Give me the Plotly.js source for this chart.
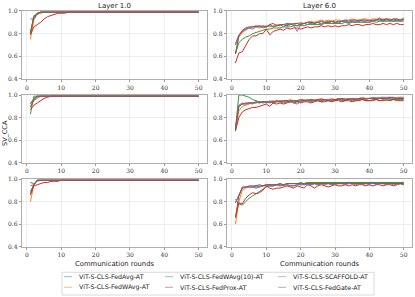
<!DOCTYPE html>
<html>
<head>
<meta charset="utf-8">
<script src="https://cdn.plot.ly/plotly-3.0.1.min.js"></script>
<style>html,body{margin:0;padding:0;background:#fff;}#chart{width:415px;height:297px;}</style>
</head>
<body>
<div id="chart"></div>
<script>
const rounds = [1,2,3,4,5,6,7,8,9,10,11,12,13,14,15,16,17,18,19,20,21,22,23,24,25,26,27,28,29,30,31,32,33,34,35,36,37,38,39,40,41,42,43,44,45,46,47,48,49,50];
const methods = ["ViT-S-CLS-FedAvg-AT","ViT-S-CLS-FedWAvg-AT","ViT-S-CLS-FedWAvg(10)-AT","ViT-S-CLS-FedProx-AT","ViT-S-CLS-SCAFFOLD-AT","ViT-S-CLS-FedGate-AT"];
const colTitles = ["Layer 1.0","Layer 6.0"];
const yTicks = [0.4,0.6,0.8,1.0];
const xTicks = [0,10,20,30,40,50];

// Layer 1.0 — row 1
const l1_avg   = [0.80,0.95,0.98,0.99,0.99,0.99,0.99,0.99,0.99,0.99,0.99,0.99,0.99,0.99,0.99,0.99,0.99,0.99,0.99,0.99,0.99,0.99,0.99,0.99,0.99,0.99,0.99,0.99,0.99,0.99,0.99,0.99,0.99,0.99,0.99,0.99,0.99,0.99,0.99,0.99,0.99,0.99,0.99,0.99,0.99,0.99,0.99,0.99,0.99,0.99];
const l1_wavg  = [0.75,0.92,0.97,0.98,0.99,0.99,0.99,0.99,0.99,0.99,0.99,0.99,0.99,0.99,0.99,0.99,0.99,0.99,0.99,0.99,0.99,0.99,0.99,0.99,0.99,0.99,0.99,0.99,0.99,0.99,0.99,0.99,0.99,0.99,0.99,0.99,0.99,0.99,0.99,0.99,0.99,0.99,0.99,0.99,0.99,0.99,0.99,0.99,0.99,0.99];
const l1_w10   = [0.80,0.96,0.97,0.99,0.99,0.99,0.99,0.99,0.99,0.99,0.99,0.99,0.99,0.99,0.99,0.99,0.99,0.99,0.99,0.99,0.99,0.99,0.99,0.99,0.99,0.99,0.99,0.99,0.99,0.99,0.99,0.99,0.99,0.99,0.99,0.99,0.99,0.99,0.99,0.99,0.99,0.99,0.99,0.99,0.99,0.99,0.99,0.99,0.99,0.99];
const l1_prox  = [0.79,0.86,0.88,0.90,0.93,0.95,0.96,0.97,0.98,0.98,0.98,0.99,0.99,0.99,0.99,0.99,0.99,0.99,0.99,0.99,0.99,0.99,0.99,0.99,0.99,0.99,0.99,0.99,0.99,0.99,0.99,0.99,0.99,0.99,0.99,0.99,0.99,0.99,0.99,0.99,0.99,0.99,0.99,0.99,0.99,0.99,0.99,0.99,0.99,0.99];
const l1_scaf  = [0.93,0.93,0.98,0.99,0.99,0.99,0.99,0.99,0.99,0.99,0.99,0.99,0.99,0.99,0.99,0.99,0.99,0.99,0.99,0.99,0.99,0.99,0.99,0.99,0.99,0.99,0.99,0.99,0.99,0.99,0.99,0.99,0.99,0.99,0.99,0.99,0.99,0.99,0.99,0.99,0.99,0.99,0.99,0.99,0.99,0.99,0.99,0.99,0.99,0.99];
const l1_gate  = [0.81,0.94,0.98,0.99,0.99,0.99,0.99,0.99,0.99,0.99,0.99,0.99,0.99,0.99,0.99,0.99,0.99,0.99,0.99,0.99,0.99,0.99,0.99,0.99,0.99,0.99,0.99,0.99,0.99,0.99,0.99,0.99,0.99,0.99,0.99,0.99,0.99,0.99,0.99,0.99,0.99,0.99,0.99,0.99,0.99,0.99,0.99,0.99,0.99,0.99];

// Layer 6.0 — row 1
const r1_avg   = [0.70,0.78,0.82,0.84,0.85,0.86,0.86,0.87,0.86,0.86,0.87,0.86,0.87,0.87,0.88,0.87,0.88,0.88,0.87,0.89,0.89,0.90,0.89,0.90,0.90,0.89,0.90,0.90,0.91,0.90,0.90,0.91,0.91,0.90,0.91,0.91,0.92,0.91,0.91,0.92,0.91,0.92,0.92,0.91,0.92,0.92,0.91,0.92,0.92,0.92];
const r1_wavg  = [0.62,0.77,0.81,0.83,0.85,0.86,0.86,0.85,0.86,0.87,0.86,0.87,0.88,0.87,0.88,0.88,0.89,0.88,0.89,0.90,0.89,0.90,0.91,0.90,0.91,0.92,0.91,0.92,0.91,0.92,0.92,0.91,0.92,0.92,0.93,0.92,0.92,0.93,0.93,0.92,0.93,0.93,0.92,0.93,0.93,0.93,0.92,0.93,0.92,0.94];
const r1_w10   = [0.62,0.72,0.75,0.77,0.78,0.80,0.81,0.82,0.83,0.84,0.84,0.85,0.85,0.85,0.86,0.86,0.86,0.87,0.87,0.87,0.87,0.88,0.88,0.88,0.88,0.88,0.89,0.89,0.89,0.89,0.89,0.89,0.90,0.89,0.90,0.90,0.90,0.90,0.90,0.90,0.91,0.90,0.91,0.91,0.91,0.91,0.91,0.91,0.91,0.91];
const r1_prox  = [0.54,0.63,0.64,0.70,0.75,0.78,0.78,0.80,0.80,0.84,0.79,0.82,0.83,0.84,0.83,0.85,0.84,0.85,0.85,0.84,0.85,0.86,0.85,0.86,0.86,0.87,0.86,0.87,0.86,0.87,0.86,0.87,0.87,0.88,0.87,0.88,0.88,0.87,0.88,0.88,0.89,0.88,0.88,0.89,0.88,0.89,0.88,0.89,0.88,0.88];
const r1_scaf  = [0.71,0.79,0.82,0.84,0.85,0.84,0.86,0.87,0.85,0.86,0.88,0.86,0.87,0.88,0.86,0.88,0.89,0.87,0.82,0.88,0.89,0.88,0.90,0.89,0.90,0.88,0.90,0.91,0.89,0.90,0.89,0.91,0.90,0.90,0.91,0.90,0.91,0.92,0.90,0.90,0.91,0.92,0.94,0.92,0.93,0.91,0.93,0.92,0.91,0.93];
const r1_gate  = [0.62,0.78,0.83,0.85,0.86,0.86,0.87,0.86,0.87,0.86,0.88,0.89,0.87,0.88,0.88,0.89,0.88,0.89,0.89,0.88,0.89,0.90,0.90,0.89,0.90,0.91,0.90,0.90,0.91,0.90,0.91,0.91,0.92,0.91,0.92,0.92,0.91,0.92,0.92,0.91,0.92,0.92,0.93,0.92,0.93,0.92,0.93,0.93,0.92,0.93];

// Layer 1.0 — row 2
const l2_avg   = [0.92,0.97,0.99,0.99,0.99,0.99,0.99,0.99,0.99,0.99,0.99,0.99,0.99,0.99,0.99,0.99,0.99,0.99,0.99,0.99,0.99,0.99,0.99,0.99,0.99,0.99,0.99,0.99,0.99,0.99,0.99,0.99,0.99,0.99,0.99,0.99,0.99,0.99,0.99,0.99,0.99,0.99,0.99,0.99,0.99,0.99,0.99,0.99,0.99,0.99];
const l2_wavg  = [0.90,0.95,0.97,0.99,0.99,0.99,0.99,0.99,0.99,0.99,0.99,0.99,0.99,0.99,0.99,0.99,0.99,0.99,0.99,0.99,0.99,0.99,0.99,0.99,0.99,0.99,0.99,0.99,0.99,0.99,0.99,0.99,0.99,0.99,0.99,0.99,0.99,0.99,0.99,0.99,0.99,0.99,0.99,0.99,0.99,0.99,0.99,0.99,0.99,0.99];
const l2_w10   = [0.83,0.99,0.99,0.99,0.99,0.99,0.99,0.99,0.99,0.99,0.99,0.99,0.99,0.99,0.99,0.99,0.99,0.99,0.99,0.99,0.99,0.99,0.99,0.99,0.99,0.99,0.99,0.99,0.99,0.99,0.99,0.99,0.99,0.99,0.99,0.99,0.99,0.99,0.99,0.99,0.99,0.99,0.99,0.99,0.99,0.99,0.99,0.99,0.99,0.99];
const l2_prox  = [0.87,0.91,0.93,0.95,0.97,0.98,0.99,0.99,0.99,0.99,0.99,0.99,0.99,0.99,0.99,0.99,0.99,0.99,0.99,0.99,0.99,0.99,0.99,0.99,0.99,0.99,0.99,0.99,0.99,0.99,0.99,0.99,0.99,0.99,0.99,0.99,0.99,0.99,0.99,0.99,0.99,0.99,0.99,0.99,0.99,0.99,0.99,0.99,0.99,0.99];
const l2_scaf  = [0.93,0.96,0.98,0.99,0.99,0.99,0.99,0.99,0.99,0.99,0.99,0.99,0.99,0.99,0.99,0.99,0.99,0.99,0.99,0.99,0.99,0.99,0.99,0.99,0.99,0.99,0.99,0.99,0.99,0.99,0.99,0.99,0.99,0.99,0.99,0.99,0.99,0.99,0.99,0.99,0.99,0.99,0.99,0.99,0.99,0.99,0.99,0.99,0.99,0.99];
const l2_gate  = [0.89,0.96,0.99,0.99,0.99,0.99,0.99,0.99,0.99,0.99,0.99,0.99,0.99,0.99,0.99,0.99,0.99,0.99,0.99,0.99,0.99,0.99,0.99,0.99,0.99,0.99,0.99,0.99,0.99,0.99,0.99,0.99,0.99,0.99,0.99,0.99,0.99,0.99,0.99,0.99,0.99,0.99,0.99,0.99,0.99,0.99,0.99,0.99,0.99,0.99];

// Layer 6.0 — row 2
const r2_avg   = [0.70,0.90,0.92,0.92,0.93,0.93,0.93,0.94,0.93,0.94,0.94,0.93,0.95,0.94,0.95,0.94,0.95,0.95,0.94,0.95,0.95,0.96,0.95,0.95,0.96,0.95,0.96,0.96,0.95,0.96,0.96,0.96,0.96,0.97,0.96,0.96,0.97,0.96,0.97,0.97,0.97,0.96,0.97,0.97,0.97,0.97,0.98,0.97,0.97,0.97];
const r2_wavg  = [0.70,0.86,0.90,0.91,0.92,0.93,0.93,0.94,0.94,0.93,0.94,0.95,0.94,0.95,0.95,0.95,0.96,0.95,0.95,0.96,0.96,0.95,0.96,0.96,0.96,0.97,0.96,0.96,0.97,0.96,0.97,0.97,0.97,0.96,0.97,0.97,0.97,0.98,0.97,0.97,0.97,0.98,0.97,0.98,0.97,0.98,0.97,0.98,0.98,0.97];
const r2_w10   = [0.70,1.00,1.00,0.99,0.98,0.96,0.95,0.94,0.94,0.94,0.94,0.93,0.94,0.94,0.93,0.94,0.95,0.94,0.95,0.94,0.95,0.95,0.94,0.95,0.95,0.94,0.95,0.95,0.95,0.95,0.96,0.95,0.95,0.96,0.95,0.95,0.96,0.96,0.95,0.95,0.96,0.96,0.95,0.96,0.95,0.96,0.96,0.96,0.96,0.96];
const r2_prox  = [0.68,0.80,0.85,0.87,0.88,0.89,0.89,0.90,0.91,0.92,0.90,0.93,0.92,0.93,0.92,0.93,0.94,0.93,0.94,0.93,0.94,0.94,0.93,0.94,0.95,0.94,0.94,0.95,0.94,0.95,0.95,0.94,0.95,0.95,0.94,0.95,0.95,0.96,0.95,0.95,0.95,0.96,0.95,0.95,0.96,0.95,0.96,0.95,0.95,0.95];
const r2_scaf  = [0.70,0.91,0.93,0.92,0.93,0.92,0.94,0.93,0.94,0.93,0.95,0.94,0.94,0.95,0.94,0.95,0.94,0.93,0.92,0.94,0.95,0.95,0.96,0.95,0.96,0.95,0.96,0.96,0.95,0.96,0.97,0.96,0.96,0.97,0.96,0.97,0.96,0.97,0.97,0.97,0.98,0.97,0.98,0.98,0.98,0.98,0.98,0.97,0.98,0.98];
const r2_gate  = [0.68,0.90,0.92,0.93,0.93,0.93,0.94,0.93,0.94,0.94,0.93,0.94,0.95,0.94,0.95,0.95,0.94,0.95,0.95,0.96,0.95,0.95,0.96,0.95,0.96,0.96,0.96,0.95,0.96,0.96,0.96,0.97,0.96,0.96,0.97,0.96,0.97,0.97,0.96,0.97,0.97,0.97,0.97,0.97,0.97,0.98,0.97,0.97,0.97,0.97];

// Layer 1.0 — row 3
const l3_avg   = [0.89,0.95,0.99,0.99,0.99,0.99,0.99,0.99,0.99,0.99,0.99,0.99,0.99,0.99,0.99,0.99,0.99,0.99,0.99,0.99,0.99,0.99,0.99,0.99,0.99,0.99,0.99,0.99,0.99,0.99,0.99,0.99,0.99,0.99,0.99,0.99,0.99,0.99,0.99,0.99,0.99,0.99,0.99,0.99,0.99,0.99,0.99,0.99,0.99,0.99];
const l3_wavg  = [0.80,0.95,0.99,0.99,0.99,0.99,0.99,0.99,0.99,0.99,0.99,0.99,0.99,0.99,0.99,0.99,0.99,0.99,0.99,0.99,0.99,0.99,0.99,0.99,0.99,0.99,0.99,0.99,0.99,0.99,0.99,0.99,0.99,0.99,0.99,0.99,0.99,0.99,0.99,0.99,0.99,0.99,0.99,0.99,0.99,0.99,0.99,0.99,0.99,0.99];
const l3_w10   = [0.97,0.96,0.98,0.99,0.99,0.99,0.99,0.99,0.99,0.99,0.99,0.99,0.99,0.99,0.99,0.99,0.99,0.99,0.99,0.99,0.99,0.99,0.99,0.99,0.99,0.99,0.99,0.99,0.99,0.99,0.99,0.99,0.99,0.99,0.99,0.99,0.99,0.99,0.99,0.99,0.99,0.99,0.99,0.99,0.99,0.99,0.99,0.99,0.99,0.99];
const l3_prox  = [0.86,0.94,0.95,0.96,0.97,0.97,0.98,0.98,0.98,0.99,0.99,0.99,0.99,0.99,0.99,0.99,0.99,0.99,0.99,0.99,0.99,0.99,0.99,0.99,0.99,0.99,0.99,0.99,0.99,0.99,0.99,0.99,0.99,0.99,0.99,0.99,0.99,0.99,0.99,0.99,0.99,0.99,0.99,0.99,0.99,0.99,0.99,0.99,0.99,0.99];
const l3_scaf  = [0.94,0.95,0.99,0.99,0.99,0.99,0.99,0.99,0.99,0.99,0.99,0.99,0.99,0.99,0.99,0.99,0.99,0.99,0.99,0.99,0.99,0.99,0.99,0.99,0.99,0.99,0.99,0.99,0.99,0.99,0.99,0.99,0.99,0.99,0.99,0.99,0.99,0.99,0.99,0.99,0.99,0.99,0.99,0.99,0.99,0.99,0.99,0.99,0.99,0.99];
const l3_gate  = [0.87,0.95,0.99,0.99,0.99,0.99,0.99,0.99,0.99,0.99,0.99,0.99,0.99,0.99,0.99,0.99,0.99,0.99,0.99,0.99,0.99,0.99,0.99,0.99,0.99,0.99,0.99,0.99,0.99,0.99,0.99,0.99,0.99,0.99,0.99,0.99,0.99,0.99,0.99,0.99,0.99,0.99,0.99,0.99,0.99,0.99,0.99,0.99,0.99,0.99];

// Layer 6.0 — row 3
const r3_avg   = [0.79,0.86,0.92,0.93,0.93,0.93,0.92,0.93,0.94,0.95,0.94,0.94,0.95,0.94,0.95,0.95,0.94,0.94,0.95,0.95,0.95,0.96,0.95,0.96,0.95,0.96,0.96,0.96,0.95,0.96,0.96,0.96,0.96,0.96,0.97,0.96,0.96,0.96,0.97,0.96,0.96,0.96,0.97,0.96,0.96,0.97,0.96,0.96,0.96,0.96];
const r3_wavg  = [0.60,0.80,0.90,0.92,0.93,0.93,0.94,0.94,0.94,0.95,0.95,0.95,0.95,0.96,0.95,0.96,0.96,0.96,0.96,0.96,0.96,0.97,0.96,0.96,0.97,0.96,0.97,0.96,0.97,0.97,0.96,0.97,0.97,0.97,0.96,0.97,0.97,0.97,0.97,0.97,0.97,0.97,0.97,0.97,0.97,0.97,0.97,0.97,0.97,0.97];
const r3_w10   = [0.82,0.78,0.77,0.80,0.83,0.85,0.87,0.89,0.91,0.93,0.94,0.94,0.95,0.95,0.94,0.96,0.96,0.96,0.96,0.97,0.96,0.97,0.97,0.97,0.97,0.97,0.97,0.97,0.97,0.97,0.97,0.97,0.97,0.97,0.97,0.97,0.97,0.97,0.97,0.97,0.97,0.97,0.97,0.97,0.97,0.97,0.97,0.97,0.97,0.97];
const r3_prox  = [0.66,0.79,0.78,0.83,0.86,0.88,0.87,0.88,0.90,0.94,0.92,0.91,0.92,0.92,0.93,0.94,0.93,0.92,0.94,0.93,0.92,0.95,0.94,0.92,0.94,0.95,0.94,0.93,0.94,0.95,0.94,0.94,0.95,0.94,0.95,0.94,0.95,0.95,0.94,0.95,0.94,0.95,0.95,0.94,0.95,0.95,0.94,0.95,0.96,0.95];
const r3_scaf  = [0.79,0.85,0.92,0.93,0.93,0.93,0.94,0.93,0.94,0.94,0.95,0.94,0.95,0.94,0.95,0.95,0.94,0.94,0.95,0.96,0.95,0.95,0.95,0.96,0.95,0.96,0.95,0.96,0.96,0.95,0.96,0.96,0.95,0.96,0.96,0.95,0.96,0.95,0.96,0.95,0.94,0.95,0.96,0.96,0.95,0.96,0.95,0.95,0.96,0.95];
const r3_gate  = [0.66,0.85,0.93,0.93,0.94,0.94,0.94,0.95,0.94,0.95,0.95,0.95,0.95,0.96,0.95,0.96,0.96,0.96,0.96,0.96,0.96,0.96,0.96,0.96,0.96,0.96,0.96,0.96,0.96,0.96,0.96,0.96,0.96,0.97,0.96,0.96,0.96,0.96,0.96,0.96,0.97,0.96,0.96,0.96,0.96,0.96,0.96,0.96,0.96,0.96];

const panels = [
  [l1_avg,l1_wavg,l1_w10,l1_prox,l1_scaf,l1_gate],
  [r1_avg,r1_wavg,r1_w10,r1_prox,r1_scaf,r1_gate],
  [l2_avg,l2_wavg,l2_w10,l2_prox,l2_scaf,l2_gate],
  [r2_avg,r2_wavg,r2_w10,r2_prox,r2_scaf,r2_gate],
  [l3_avg,l3_wavg,l3_w10,l3_prox,l3_scaf,l3_gate],
  [r3_avg,r3_wavg,r3_w10,r3_prox,r3_scaf,r3_gate]
];

const colors = ["#1f77b4","#ff7f0e","#2ca02c","#d62728","#9467bd","#8c564b"];

const W = 415, H = 297;
const colDomains = [[0.053,0.499],[0.547,0.993]];
const rowDomains = [[0.734,0.963],[0.452,0.680],[0.169,0.397]];

const traces = [];
panels.forEach((series, p) => {
  const sfx = p === 0 ? "" : String(p+1);
  series.forEach((vals, m) => {
    traces.push({
      x: rounds, y: vals, type: "scatter", mode: "lines",
      name: methods[m], xaxis: "x"+sfx, yaxis: "y"+sfx,
      line: {color: colors[m], width: 1}, showlegend: false
    });
  });
});

const tickFont = {family: "DejaVu Serif, serif", size: 6, color: "#333"};
const sans = "DejaVu Sans, sans-serif";
const layout = {
  width: W, height: H,
  margin: {l: 0, r: 0, t: 0, b: 0},
  paper_bgcolor: "#fff", plot_bgcolor: "#fff",
  showlegend: false,
  annotations: [], shapes: [],
  font: {family: sans}
};

for (let p = 0; p < 6; p++) {
  const sfx = p === 0 ? "" : String(p+1);
  const col = p % 2, row = Math.floor(p / 2);
  layout["xaxis"+sfx] = {
    domain: colDomains[col], anchor: "y"+sfx,
    range: [-1.45, 52.45], tickvals: xTicks, ticks: "outside", ticklen: 2.5, tickwidth: 0.6, tickcolor: "#555",
    tickfont: tickFont, showgrid: true, gridcolor: "#e3e3e3", gridwidth: 0.6,
    showline: true, linecolor: "#9a9a9a", linewidth: 0.8, mirror: true, zeroline: false,
    title: row === 2 ? {text: "Communication rounds", font: {family: sans, size: 6.8, color: "#222"}, standoff: 3} : {text: ""}
  };
  layout["yaxis"+sfx] = {
    domain: rowDomains[row], anchor: "x"+sfx,
    range: [0.4, 1.0], tickvals: yTicks, tickformat: ".1f", ticks: "outside", ticklen: 2.5, tickwidth: 0.6, tickcolor: "#555",
    tickfont: tickFont, showgrid: true, gridcolor: "#e3e3e3", gridwidth: 0.6,
    showline: true, linecolor: "#9a9a9a", linewidth: 0.8, mirror: true, zeroline: false
  };
}

colTitles.forEach((t, i) => {
  layout.annotations.push({
    text: t, xref: "paper", yref: "paper",
    x: (colDomains[i][0] + colDomains[i][1]) / 2, y: 1 - 6/H, xanchor: "center", yanchor: "middle",
    showarrow: false, font: {family: sans, size: 7, color: "#222"}
  });
});
layout.annotations.push({
  text: "SV_CCA", xref: "paper", yref: "paper", x: 5/W, y: 1 - 133/H, xanchor: "center", yanchor: "middle",
  textangle: -90, showarrow: false, font: {family: sans, size: 6.5, color: "#222"}
});

// Legend drawn in paper space: box, swatches, labels
const legCols = [64, 165, 278];
const legRows = [276.7, 287.3];
const legOrder = [[0,2,4],[1,3,5]];
layout.shapes.push({type: "rect", xref: "paper", yref: "paper",
  x0: 62/W, x1: 374/W, y0: 1 - 295/H, y1: 1 - 272.3/H,
  line: {color: "#d0d0d0", width: 0.8}, fillcolor: "rgba(255,255,255,0.8)", layer: "above"});
legOrder.forEach((rowItems, r) => {
  rowItems.forEach((m, c) => {
    const yy = 1 - legRows[r]/H;
    layout.shapes.push({type: "line", xref: "paper", yref: "paper",
      x0: legCols[c]/W, x1: (legCols[c]+8)/W, y0: yy, y1: yy,
      line: {color: colors[m], width: 1}, opacity: 0.5, layer: "above"});
    layout.annotations.push({text: methods[m], xref: "paper", yref: "paper",
      x: (legCols[c]+13)/W, y: yy, xanchor: "left", yanchor: "middle", showarrow: false,
      font: {family: sans, size: 6.3, color: "#222"}});
  });
});

Plotly.newPlot("chart", traces, layout, {displayModeBar: false, staticPlot: true});
</script>
</body>
</html>
